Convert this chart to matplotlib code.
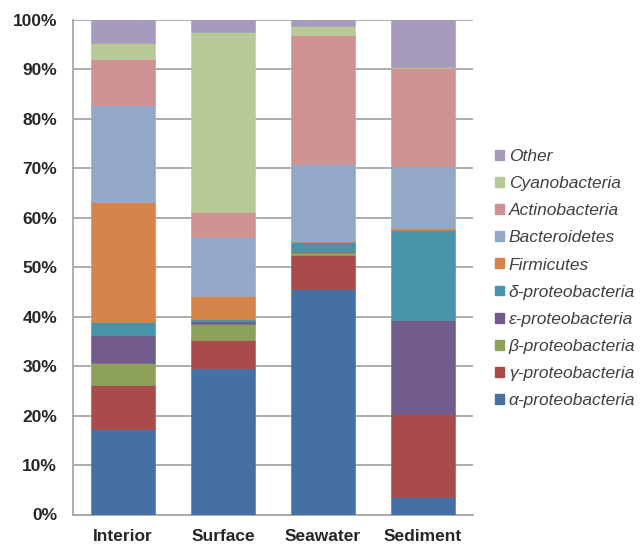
import matplotlib
matplotlib.use("Agg")
import matplotlib.pyplot as plt
from matplotlib.patches import Patch
import numpy as np

plt.rcParams['font.family'] = ['Liberation Sans', 'DejaVu Sans']

sites = ["Interior", "Surface", "Seawater", "Sediment"]

# Relative abundance (%) of each taxon per site, stacked bottom to top
alpha_proteo = [17.3, 29.7, 45.6, 3.5]
gamma_proteo = [8.8, 5.5, 6.9, 16.8]
beta_proteo = [4.5, 3.4, 0.6, 0.0]
epsilon_proteo = [5.6, 0.6, 0.2, 19.1]
delta_proteo = [2.7, 0.3, 1.8, 18.2]
firmicutes = [24.2, 4.6, 0.2, 0.3]
bacteroidetes = [19.7, 12.1, 15.5, 12.5]
actinobacteria = [9.4, 5.0, 26.2, 19.9]
cyanobacteria = [3.1, 36.3, 1.8, 0.2]
other = [4.7, 2.7, 1.4, 9.6]

series = [
    ("α-proteobacteria", alpha_proteo, "#4670A3"),
    ("γ-proteobacteria", gamma_proteo, "#A84B4A"),
    ("β-proteobacteria", beta_proteo, "#8DA258"),
    ("ε-proteobacteria", epsilon_proteo, "#725B8D"),
    ("δ-proteobacteria", delta_proteo, "#4894A9"),
    ("Firmicutes", firmicutes, "#D5854A"),
    ("Bacteroidetes", bacteroidetes, "#93A7C9"),
    ("Actinobacteria", actinobacteria, "#CE9290"),
    ("Cyanobacteria", cyanobacteria, "#B8C998"),
    ("Other", other, "#A69BBC"),
]

fig = plt.figure(figsize=(6.41, 5.44), dpi=100)
ax = fig.add_axes([73 / 641, 1 - 514.5 / 544, 400 / 641, 494.5 / 544])

x = np.arange(len(sites))
bottom = np.zeros(len(sites))
for name, vals, color in series:
    vals = np.array(vals, dtype=float)
    ax.bar(x, vals, bottom=bottom, width=0.645, color=color, edgecolor=color,
           linewidth=0.4, zorder=3)
    bottom += vals

ax.set_xlim(-0.5, len(sites) - 0.5)
ax.set_ylim(0, 100)
ax.set_yticks(np.arange(0, 101, 10))
ax.set_yticklabels([f"{v}%" for v in range(0, 101, 10)], fontsize=12.5,
                   fontweight="bold", color="#262626")
ax.set_xticks(x)
ax.set_xticklabels(sites, fontsize=12.5, fontweight="bold", color="#262626")
ax.tick_params(axis="both", length=0)
ax.tick_params(axis="x", pad=10.5)
ax.tick_params(axis="y", pad=11.5)
ax.yaxis.grid(True, color="#A6A6A6", linewidth=1.3, zorder=0)
ax.set_axisbelow(True)
for side in ("top", "right"):
    ax.spines[side].set_visible(False)
for side in ("left", "bottom"):
    ax.spines[side].set_color("#A6A6A6")
    ax.spines[side].set_linewidth(1.3)

handles = [Patch(facecolor=c, edgecolor=c, label=n) for n, _, c in reversed(series)]
leg = fig.legend(handles=handles, loc="upper left", bbox_to_anchor=(488 / 641, 1 - 142 / 544),
                 frameon=False, prop={"size": 12.5, "style": "italic"},
                 handlelength=0.5, handleheight=0.5, handletextpad=0.3,
                 labelspacing=0.70, borderaxespad=0)
for t in leg.get_texts():
    t.set_color("#404040")

fig.savefig("out.png", dpi=100)
